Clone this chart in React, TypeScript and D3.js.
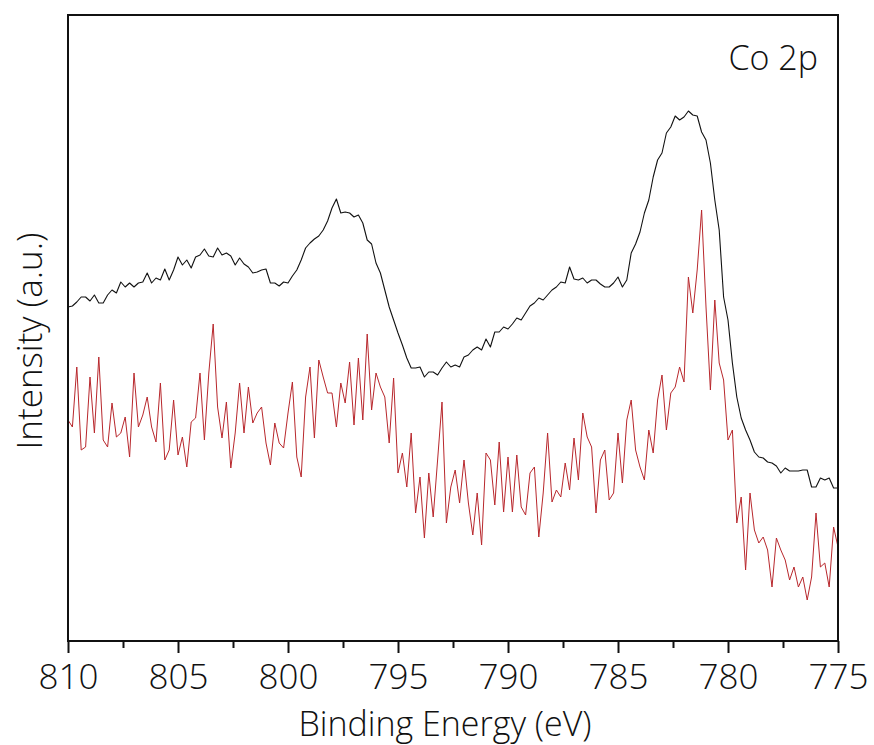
import React, { useEffect, useRef } from "react";
import * as d3 from "d3";

// Binding energy grid: 810 eV down to 775 eV, 0.2 eV per channel
const energyStart = 810;
const energyStep = 0.2;

// Upper (black) spectrum, arbitrary intensity
const blackSeries = [
  333, 334, 338, 343, 343, 339, 345, 337, 337, 345, 350, 347, 358, 353, 357, 353, 357, 358, 367, 357,
  362, 360, 371, 360, 370, 383, 375, 380, 372, 383, 385,
  391, 384, 383, 392, 385, 387, 384, 375, 382, 376, 373, 367, 368, 370, 371, 357, 357, 354, 358, 357,
  364, 370, 380, 392, 397, 401, 404, 410, 419,
  432, 441, 427, 428, 427, 423, 425, 417, 400, 396, 377, 367, 350, 333, 320, 307, 295, 282, 272, 272,
  273, 263, 268, 268, 265, 272, 278, 273, 275, 273,
  283, 285, 290, 293, 290, 301, 293, 308, 308, 313, 311, 316, 322, 320, 327, 334, 337, 342, 340, 345,
  350, 353, 358, 357, 373, 361, 360, 362, 357,
  360, 360, 356, 353, 353, 357, 363, 353, 360, 387, 396, 408, 427, 440, 463, 480, 487, 507, 513, 524,
  520, 523, 529, 525, 524, 508, 500, 477, 440, 410,
  343, 320, 277, 243, 222, 210, 200, 188, 183, 182, 178, 177, 174, 167, 172, 169, 169, 169, 170, 170,
  153, 153, 162, 160, 162, 152, 152,
];

// Lower (red) spectrum, arbitrary intensity
const redSeries = [
  220, 213, 273, 190, 193, 263, 207, 283, 200, 193, 237, 203, 207, 223, 183, 267, 213, 225, 243, 213,
  198, 257, 180, 190, 240, 185, 203, 173, 218, 222, 267,
  200, 267, 316, 233, 202, 238, 172, 207, 257, 207, 253, 217, 227, 233, 197, 175, 217, 197, 192, 227,
  258, 183, 163, 243, 273, 202, 280, 263, 247,
  247, 213, 257, 237, 278, 215, 282, 220, 306, 230, 267, 253, 243, 197, 262, 167, 187, 153, 207, 127,
  163, 102, 167, 123, 180, 238, 117, 153, 170, 137,
  180, 137, 105, 147, 95, 187, 180, 135, 198, 128, 183, 128, 185, 133, 125, 167, 173, 103, 147, 207,
  138, 150, 143, 177, 150, 202, 160, 227, 203,
  193, 127, 180, 190, 140, 147, 207, 157, 220, 240, 190, 173, 160, 210, 187, 240, 265, 210, 247, 253,
  273, 258, 363, 327, 370, 430, 333, 250, 340, 277,
  260, 200, 210, 117, 143, 70, 147, 110, 97, 103, 90, 53, 102, 90, 80, 60, 73, 53, 63, 40,
  63, 127, 73, 77, 53, 113, 93,
];

const majorTicks = [810, 805, 800, 795, 790, 785, 780, 775];
const minorTicks = [807.5, 802.5, 797.5, 792.5, 787.5, 782.5, 777.5];
const xTitle = "Binding Energy (eV)";
const yTitle = "Intensity (a.u.)";
const panelLabel = "Co 2p";

const W = 874;
const H = 745;
const M = { left: 68, right: 838, top: 15, bottom: 641 };
const FONT = "'Open Sans', 'Noto Sans', sans-serif";
const WEIGHT = 300;

export default function App() {
  const ref = useRef<SVGSVGElement | null>(null);

  useEffect(() => {
    const svg = d3.select(ref.current);
    svg.selectAll("*").remove();

    const x = d3.scaleLinear().domain([810, 775]).range([M.left, M.right]);
    const y = d3.scaleLinear().domain([0, 625]).range([M.bottom - 1, M.top]);

    const energies = blackSeries.map((_, i) => energyStart - i * energyStep);

    const line = d3
      .line<number>()
      .x((_, i) => x(energies[i]))
      .y((d) => y(d));

    const plot = svg.append("g");
    plot
      .append("path")
      .datum(redSeries)
      .attr("d", line)
      .attr("fill", "none")
      .attr("stroke", "#b8272c")
      .attr("stroke-width", 1)
      .attr("stroke-linejoin", "round");
    plot
      .append("path")
      .datum(blackSeries)
      .attr("d", line)
      .attr("fill", "none")
      .attr("stroke", "#111")
      .attr("stroke-width", 1.1)
      .attr("stroke-linejoin", "round");

    // frame
    svg
      .append("rect")
      .attr("x", M.left)
      .attr("y", M.top)
      .attr("width", M.right - M.left)
      .attr("height", M.bottom - M.top)
      .attr("fill", "none")
      .attr("stroke", "#111")
      .attr("stroke-width", 2);

    // minor ticks
    const minorAxis = d3.axisBottom(x).tickValues(minorTicks).tickSize(7).tickFormat(() => "");
    const gMinor = svg.append("g").attr("transform", `translate(0,${M.bottom})`).call(minorAxis);
    gMinor.select(".domain").remove();
    gMinor.selectAll("line").attr("stroke", "#111").attr("stroke-width", 2);

    // major ticks
    const majorAxis = d3
      .axisBottom(x)
      .tickValues(majorTicks)
      .tickSize(12)
      .tickPadding(11)
      .tickFormat((d) => String(d));
    const gMajor = svg.append("g").attr("transform", `translate(0,${M.bottom})`).call(majorAxis);
    gMajor.select(".domain").remove();
    gMajor.selectAll("line").attr("stroke", "#111").attr("stroke-width", 2);
    gMajor
      .selectAll("text")
      .attr("fill", "#111")
      .style("font-family", FONT)
      .style("font-weight", WEIGHT)
      .style("font-size", "35px");

    svg
      .append("text")
      .attr("x", 445)
      .attr("y", 736)
      .attr("text-anchor", "middle")
      .style("font-family", FONT)
      .style("font-weight", WEIGHT)
      .style("font-size", "34px")
      .attr("fill", "#111")
      .text(xTitle);

    svg
      .append("text")
      .attr("transform", `translate(42,${341}) rotate(-90)`)
      .attr("text-anchor", "middle")
      .style("font-family", FONT)
      .style("font-weight", WEIGHT)
      .style("font-size", "35px")
      .attr("fill", "#111")
      .text(yTitle);

    svg
      .append("text")
      .attr("x", 818)
      .attr("y", 70)
      .attr("text-anchor", "end")
      .style("font-family", FONT)
      .style("font-weight", WEIGHT)
      .style("font-size", "34px")
      .attr("fill", "#111")
      .text(panelLabel);
  }, []);

  return (
    <svg
      ref={ref}
      width={W}
      height={H}
      style={{ position: "absolute", left: 0, top: 0, background: "#fff" }}
    />
  );
}
